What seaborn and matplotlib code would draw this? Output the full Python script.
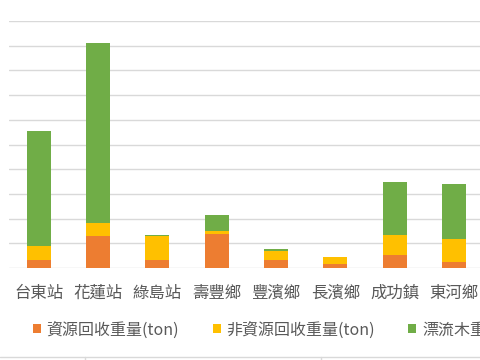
import matplotlib
matplotlib.use("Agg")
import matplotlib.pyplot as plt
from matplotlib.patches import Patch
from matplotlib.lines import Line2D
import seaborn as sns
import numpy as np
import pandas as pd

# ---- data (tons) ----
categories = ["台東站", "花蓮站", "綠島站", "壽豐鄉", "豐濱鄉", "長濱鄉", "成功鎮", "東河鄉"]
recycle = [3.3, 13.0, 3.3, 13.8, 3.4, 1.7, 5.3, 2.6]        # 資源回收重量(ton)
non_recycle = [5.8, 5.4, 9.6, 1.0, 3.6, 2.8, 8.1, 9.2]      # 非資源回收重量(ton)
driftwood = [46.2, 72.6, 0.5, 6.7, 0.6, 0.0, 21.4, 22.3]    # 漂流木重量(ton)
series_labels = ["資源回收重量(ton)", "非資源回收重量(ton)", "漂流木重量(ton)"]
colors = ["#ED7D31", "#FFC000", "#70AD47"]

sns.set_style("white")
plt.rcParams["font.family"] = ["Noto Sans CJK TC", "DejaVu Sans"]

df = pd.DataFrame({"cat": categories, "r": recycle, "n": non_recycle, "d": driftwood})
df["c1"] = df["r"]
df["c2"] = df["r"] + df["n"]
df["c3"] = df["c2"] + df["d"]

W, H = 480, 360
fig = plt.figure(figsize=(4.8, 3.6), dpi=100)
ax_left, ax_right, ax_bottom, ax_top = 9, 543, 268, 21
ax = fig.add_axes([ax_left / W, 1 - ax_bottom / H, (ax_right - ax_left) / W, (ax_bottom - ax_top) / H])

for col, c in zip(["c3", "c2", "c1"], colors[::-1]):
    sns.barplot(data=df, x="cat", y=col, color=c, width=0.4, ax=ax,
                saturation=1, edgecolor="none", linewidth=0, zorder=3)

ax.set_xlim(-0.5, 8.5)
ax.set_ylim(0, 100)
ax.set_yticks(np.arange(0, 101, 10))
ax.yaxis.grid(True, color="#D9D9D9", linewidth=1.0, zorder=0)
ax.set_axisbelow(True)
ax.set_yticklabels([])
ax.set_xlabel("")
ax.set_ylabel("")
for s in ax.spines.values():
    s.set_visible(False)
ax.tick_params(axis="both", length=0)
ax.tick_params(axis="x", pad=12, labelsize=11.8, labelcolor="#595959")

handles = [Patch(facecolor=c, edgecolor="none") for c in colors]
fig.legend(handles, series_labels, loc="center left",
           bbox_to_anchor=(33 / W, 1 - 330 / H), ncol=3, frameon=False,
           fontsize=11.5, labelcolor="#595959", handlelength=0.5, handleheight=0.5,
           handletextpad=0.35, columnspacing=2.1, borderpad=0, borderaxespad=0)

# sheet cell borders below the chart
fig.add_artist(Line2D([0, 1], [1 - 356.7 / H] * 2, transform=fig.transFigure, color="#D9D9D9", lw=1))
for xp in (85, 321):
    fig.add_artist(Line2D([xp / W] * 2, [0, 1 - 357 / H], transform=fig.transFigure, color="#D9D9D9", lw=1))

fig.savefig("out.png", dpi=100)
